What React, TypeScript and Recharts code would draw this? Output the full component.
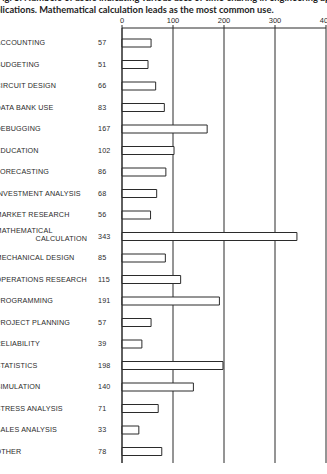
import { BarChart, Bar, XAxis, YAxis, CartesianGrid } from 'recharts';

// Uses of time-sharing reported by users
const uses = [
  'ACCOUNTING',
  'BUDGETING',
  'CIRCUIT DESIGN',
  'DATA BANK USE',
  'DEBUGGING',
  'EDUCATION',
  'FORECASTING',
  'INVESTMENT ANALYSIS',
  'MARKET RESEARCH',
  'MATHEMATICAL CALCULATION',
  'MECHANICAL DESIGN',
  'OPERATIONS RESEARCH',
  'PROGRAMMING',
  'PROJECT PLANNING',
  'RELIABILITY',
  'STATISTICS',
  'SIMULATION',
  'STRESS ANALYSIS',
  'SALES ANALYSIS',
  'OTHER',
];

const users = [57, 51, 66, 83, 167, 102, 86, 68, 56, 343, 85, 115, 191, 57, 39, 198, 140, 71, 33, 78];

const xTicks = [0, 100, 200, 300, 400];

const data = uses.map((name, i) => ({ name, users: users[i] }));

const INK = '#2b2b2b';
const labelFont = '"Liberation Sans", Arial, sans-serif';

function UseTick(props: any) {
  const { y, payload, index } = props;
  const name: string = payload.value;
  const value = data[index]?.users;
  const common = { fontFamily: labelFont, fontSize: 7.2, fill: INK, letterSpacing: 0.15 };
  const twoLine = name === 'MATHEMATICAL CALCULATION';
  return (
    <g>
      {twoLine ? (
        <>
          <text x={-4.5} y={y - 6} dy='0.35em' {...common}>
            MATHEMATICAL
          </text>
          <text x={87} y={y + 2} dy='0.35em' textAnchor='end' {...common}>
            CALCULATION
          </text>
        </>
      ) : (
        <text x={-4.5} y={y} dy='0.35em' {...common}>
          {name}
        </text>
      )}
      <text x={98} y={y} dy='0.35em' {...common}>
        {value}
      </text>
    </g>
  );
}

export default function App() {
  const titleStyle = {
    position: 'absolute' as const,
    left: -15,
    whiteSpace: 'nowrap' as const,
    fontFamily: 'Lato, sans-serif',
    fontWeight: 700,
    fontSize: 9.3,
    color: '#1e1e1e',
    lineHeight: '10px',
  };
  return (
    <div
      style={{
        position: 'absolute',
        left: 0,
        top: 0,
        width: 327,
        height: 474,
        overflow: 'hidden',
        background: '#fff',
      }}
    >
      <div style={{ ...titleStyle, top: -7, left: -3 }}>
        Fig. 3: Numbers of users indicating various uses of time-sharing in engineering ap-
      </div>
      <div style={{ ...titleStyle, top: 5, left: -15 }}>
        applications. Mathematical calculation leads as the most common use.
      </div>
      <BarChart
        width={327}
        height={474}
        data={data}
        layout='vertical'
        margin={{ top: 8, right: 1, left: 0, bottom: 11 }}
        barSize={8}
        style={{ position: 'absolute', left: 0, top: 0 }}
      >
        <CartesianGrid horizontal={false} stroke={INK} strokeWidth={1} />
        <XAxis
          type='number'
          orientation='top'
          domain={[0, 400]}
          ticks={xTicks}
          interval={0}
          height={20}
          tickSize={3}
          tickMargin={2}
          axisLine={{ stroke: INK }}
          tickLine={{ stroke: INK }}
          tick={{ fontFamily: labelFont, fontSize: 7.5, fill: INK }}
        />
        <YAxis
          type='category'
          dataKey='name'
          width={122}
          tickLine={false}
          axisLine={{ stroke: INK }}
          padding={{ top: 4, bottom: 1 }}
          interval={0}
          tick={<UseTick />}
        />
        <Bar
          dataKey='users'
          fill='#fff'
          stroke={INK}
          strokeWidth={1}
          isAnimationActive={false}
        />
      </BarChart>
    </div>
  );
}
